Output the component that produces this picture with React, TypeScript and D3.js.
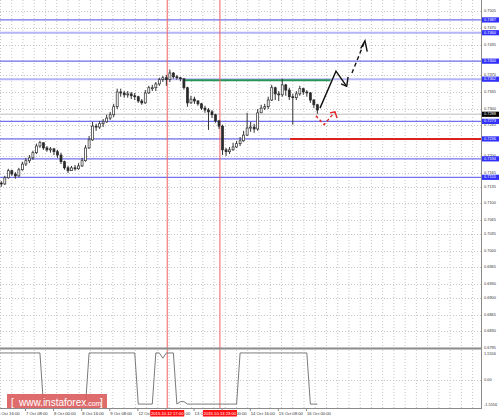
import React from "react";
import * as d3 from "d3";

// ---------- DATA ----------
// 2-hour candles, start hour index counted in trading hours from 6 Oct 16:00
const candleStartHours = d3.range(0, 184, 2);
const firstOpen = 0.7138;
const closes = [
  0.7143, 0.7141, 0.7154, 0.7169, 0.7162, 0.7158, 0.7171, 0.7183, 0.7190, 0.7196,
  0.7207, 0.7221, 0.7228, 0.7217, 0.7213, 0.7215, 0.7209, 0.7202, 0.7188, 0.7175,
  0.7169, 0.7175, 0.7173, 0.7179, 0.7190, 0.7217, 0.7234, 0.7263, 0.7261, 0.7268,
  0.7272, 0.7280, 0.7287, 0.7304, 0.7335, 0.7333, 0.7329, 0.7331, 0.7327, 0.7325,
  0.7316, 0.7312, 0.7333, 0.7344, 0.7344, 0.7352, 0.7361, 0.7365, 0.7361, 0.7375,
  0.7367, 0.7365, 0.7363, 0.7344, 0.7312, 0.7320, 0.7316, 0.7310, 0.7301, 0.7297,
  0.7293, 0.7287, 0.7274, 0.7263, 0.7213, 0.7209, 0.7213, 0.7219, 0.7226, 0.7232,
  0.7244, 0.7259, 0.7261, 0.7257, 0.7291, 0.7301, 0.7304, 0.7318, 0.7344, 0.7331,
  0.7329, 0.7350, 0.7339, 0.7325, 0.7323, 0.7331, 0.7342, 0.7335, 0.7333, 0.7318,
  0.7308, 0.7297,
];
const highs = [
  0.7150, 0.7147, 0.7158, 0.7173, 0.7171, 0.7166, 0.7175, 0.7188, 0.7196, 0.7202,
  0.7211, 0.7226, 0.7232, 0.7228, 0.7221, 0.7219, 0.7217, 0.7213, 0.7207, 0.7190,
  0.7179, 0.7179, 0.7181, 0.7185, 0.7196, 0.7223, 0.7242, 0.7272, 0.7268, 0.7274,
  0.7278, 0.7287, 0.7293, 0.7310, 0.7342, 0.7342, 0.7337, 0.7337, 0.7335, 0.7333,
  0.7327, 0.7320, 0.7339, 0.7348, 0.7350, 0.7356, 0.7365, 0.7369, 0.7371, 0.7382,
  0.7377, 0.7371, 0.7367, 0.7363, 0.7346, 0.7327, 0.7325, 0.7318, 0.7312, 0.7306,
  0.7301, 0.7297, 0.7289, 0.7276, 0.7266, 0.7217, 0.7219, 0.7228, 0.7232, 0.7240,
  0.7253, 0.7291, 0.7272, 0.7268, 0.7299, 0.7308, 0.7310, 0.7325, 0.7350, 0.7346,
  0.7337, 0.7363, 0.7352, 0.7344, 0.7331, 0.7337, 0.7348, 0.7344, 0.7339, 0.7335,
  0.7320, 0.7310,
];
const lows = [
  0.7133, 0.7135, 0.7139, 0.7152, 0.7158, 0.7152, 0.7156, 0.7169, 0.7179, 0.7185,
  0.7192, 0.7204, 0.7217, 0.7213, 0.7209, 0.7207, 0.7202, 0.7196, 0.7183, 0.7171,
  0.7164, 0.7169, 0.7169, 0.7171, 0.7177, 0.7188, 0.7215, 0.7232, 0.7253, 0.7257,
  0.7261, 0.7270, 0.7276, 0.7282, 0.7299, 0.7325, 0.7323, 0.7323, 0.7320, 0.7318,
  0.7312, 0.7308, 0.7310, 0.7331, 0.7337, 0.7337, 0.7348, 0.7356, 0.7348, 0.7356,
  0.7363, 0.7361, 0.7358, 0.7340, 0.7304, 0.7310, 0.7310, 0.7306, 0.7297, 0.7291,
  0.7255, 0.7280, 0.7270, 0.7257, 0.7202, 0.7200, 0.7204, 0.7211, 0.7217, 0.7221,
  0.7230, 0.7242, 0.7251, 0.7249, 0.7253, 0.7293, 0.7297, 0.7299, 0.7316, 0.7318,
  0.7316, 0.7325, 0.7327, 0.7318, 0.7266, 0.7318, 0.7327, 0.7329, 0.7325, 0.7312,
  0.7301, 0.7289,
];

// oscillator in lower pane, one value per candle
const indicatorValues = [
  1.62, 1.62, 1.62, 1.62, 1.62, 1.62, 1.62, 1.62, 1.62, 1.62, 1.62, 1.62, 1.62,
  -1.5, -1.5, -1.5, -1.5, -1.5, -1.5, -1.5, -1.5, -1.5, -1.5, -1.5, -1.5, -1.5,
  1.62, 1.62, 1.62, 1.62, 1.62, 1.62, 1.62, 1.62, 1.62, 1.62, 1.62, 1.62, 1.62, 1.62,
  -1.5, -1.5, -1.5, -1.5, -1.5,
  1.62, 1.62, 1.3, 1.62, 1.62, 1.62,
  -1.5, -1.35, -1.35, -1.5, -1.5, -1.5, -1.5, -1.5, -1.5, -1.5, -1.5, -1.5, -1.5, -1.5, -1.5, -1.5, -1.5, -1.5,
  1.62, 1.62, 1.62, 1.62, 1.62, 1.62, 1.62, 1.62, 1.62, 1.62, 1.62, 1.62, 1.62, 1.62, 1.62, 1.62, 1.62, 1.62, 1.62, 1.62,
  -1.5, -1.5, -1.5,
];
const indicatorTickValues = [1.5556, 0, -1.5556];
const indicatorTickLabels = ["1.5556", "0.00", "-1.5556"];

const priceGridValues = [
  0.7505, 0.7470, 0.7435, 0.7400, 0.7370, 0.7335, 0.7300, 0.7265, 0.7235, 0.7200, 0.7165,
  0.7135, 0.7100, 0.7065, 0.7035, 0.7000, 0.6965, 0.6930, 0.6900, 0.6865, 0.6830, 0.6795,
];
const levelPrices = [0.7487, 0.7460, 0.7400, 0.7362, 0.7273, 0.7236, 0.7194, 0.7155];
const softLevelPrices = [0.7460, 0.7362];
const bidPrice = 0.7288;
const greenLevel = { price: 0.7360, fromHour: 106, toHour: 190 };
const redLevel = { price: 0.7236, fromHour: 167 };

const timeTickHours = [0, 16, 32, 48, 64, 80, 96, 112, 128, 144, 160, 176];
const timeTickLabels = [
  "6 Oct 16:00", "7 Oct 08:00", "8 Oct 00:00", "8 Oct 16:00", "9 Oct 08:00", "12 Oct 00:00",
  "12 Oct 16:00", "13 Oct 08:00", "14 Oct 00:00", "14 Oct 16:00", "15 Oct 08:00", "16 Oct 00:00",
];
const markerHours = [97, 127];
const markerLabels = ["2015.10.12 17:00", "2015.10.13 23:00"];

// hand-drawn forecast arrows: [hour index, price]
const solidArrow: [number, number][] = [[184.0, 0.7301], [193.1, 0.7379], [199.2, 0.7347]];
const solidArrowHead: [number, number][] = [[196.0, 0.7352], [199.2, 0.7347], [200.0, 0.7367]];
const dashedArrow: [number, number][] = [[202.2, 0.7375], [209.6, 0.7443]];
const dashedArrowHead: [number, number][] = [[207.2, 0.7427], [209.6, 0.7443], [210.9, 0.7420]];
const redArrow: [number, number][] = [[181.7, 0.7285], [186.3, 0.7266], [192.5, 0.7293]];
const redArrowHead: [number, number][] = [[189.7, 0.7291], [192.5, 0.7293], [193.7, 0.7280]];

// ---------- LAYOUT ----------
const W = 500;
const H = 417;
const plotRight = 481;
const priceTop = 0;
const priceBottom = 348;
const indTop = 350;
const indBottom = 408;
const FONT = "'Liberation Sans', Arial, sans-serif";

export default function App() {
  const xs = d3.scaleLinear().domain([0, 176]).range([-3.1, -3.1 + 176 * 1.756]);
  const ys = d3.scaleLinear().domain([0.6795, 0.7529]).range([priceBottom, priceTop]);
  const yi = d3.scaleLinear().domain([-1.5556, 1.5556]).range([405, 354]);

  const candles = closes.map((c, j) => {
    const o = j === 0 ? firstOpen : closes[j - 1];
    return {
      x: xs(candleStartHours[j] + 0.5),
      o,
      c,
      h: Math.max(highs[j], o, c),
      l: Math.min(lows[j], o, c),
    };
  });

  const pl = d3.line<[number, number]>().x((d) => xs(d[0])).y((d) => ys(d[1]));
  const indLine = d3
    .line<number>()
    .x((_, j) => xs(candleStartHours[j] + 0.5))
    .y((v) => yi(v));

  const vGrid = d3.range(0, plotRight, 11.24);

  return (
    <svg
      width={W}
      height={H}
      style={{ position: "fixed", left: 0, top: 0, display: "block" }}
      fontFamily={FONT}
    >
      <defs>
        <clipPath id="pc">
          <rect x={0} y={priceTop} width={plotRight} height={priceBottom - priceTop} />
        </clipPath>
        <clipPath id="ic">
          <rect x={0} y={indTop} width={plotRight} height={indBottom - indTop} />
        </clipPath>
      </defs>
      <rect x={0} y={0} width={W} height={H} fill="#fff" />

      {/* grid */}
      <g stroke="#c6c6c6" strokeWidth={1} strokeDasharray="1,2">
        {vGrid.map((x, i) => (
          <line key={"vg" + i} x1={x + 0.5} x2={x + 0.5} y1={priceTop} y2={priceBottom} />
        ))}
        {vGrid.map((x, i) => (
          <line key={"vgi" + i} x1={x + 0.5} x2={x + 0.5} y1={indTop} y2={indBottom} />
        ))}
        {priceGridValues.slice(0, -1).map((p, i) => (
          <line key={"hg" + i} x1={0} x2={plotRight} y1={Math.round(ys(p)) + 0.5} y2={Math.round(ys(p)) + 0.5} />
        ))}
        <line x1={0} x2={plotRight} y1={Math.round(yi(0)) + 0.5} y2={Math.round(yi(0)) + 0.5} />
      </g>

      <g clipPath="url(#pc)">
        {/* levels */}
        {levelPrices.map((p, i) => {
          const soft = softLevelPrices.includes(p);
          return (
            <line
              key={"lv" + i}
              x1={0}
              x2={plotRight}
              y1={ys(p)}
              y2={ys(p)}
              stroke={soft ? "#b4b4f6" : "#7272ee"}
              strokeWidth={soft ? 2 : 1.2}
            />
          );
        })}
        <line x1={0} x2={plotRight} y1={ys(bidPrice)} y2={ys(bidPrice)} stroke="#d2d2d2" strokeWidth={1.5} />
        <line
          x1={xs(greenLevel.fromHour)}
          x2={xs(greenLevel.toHour)}
          y1={ys(greenLevel.price)}
          y2={ys(greenLevel.price)}
          stroke="#27955a"
          strokeWidth={2}
        />
        <line
          x1={xs(redLevel.fromHour)}
          x2={plotRight}
          y1={ys(redLevel.price)}
          y2={ys(redLevel.price)}
          stroke="#dd2020"
          strokeWidth={2}
        />
      </g>

      {/* vertical markers */}
      {markerHours.map((h, i) => (
        <line key={"mk" + i} x1={xs(h)} x2={xs(h)} y1={0} y2={indBottom} stroke="#f26262" strokeWidth={1} />
      ))}

      {/* candles */}
      <g clipPath="url(#pc)">
        {candles.map((d, i) => {
          const top = ys(Math.max(d.o, d.c));
          const bot = ys(Math.min(d.o, d.c));
          const bull = d.c >= d.o;
          return (
            <g key={"cd" + i}>
              <line x1={d.x} x2={d.x} y1={ys(d.h)} y2={ys(d.l)} stroke="#333" strokeWidth={1} />
              <rect
                x={d.x - 1}
                y={top}
                width={2}
                height={Math.max(1, bot - top)}
                fill={bull ? "#fff" : "#2a2a2a"}
                stroke="#2a2a2a"
                strokeWidth={0.7}
              />
            </g>
          );
        })}
      </g>

      {/* forecast arrows */}
      <g fill="none" strokeLinejoin="miter">
        <path d={pl(solidArrow) || ""} stroke="#111" strokeWidth={1.4} />
        <path d={pl(solidArrowHead) || ""} stroke="#111" strokeWidth={1.4} />
        <path d={pl(dashedArrow) || ""} stroke="#111" strokeWidth={1.4} strokeDasharray="4,3" />
        <path d={pl(dashedArrowHead) || ""} stroke="#111" strokeWidth={1.4} />
        <path d={pl(redArrow) || ""} stroke="#e3262b" strokeWidth={1.4} strokeDasharray="3,2.5" />
        <path d={pl(redArrowHead) || ""} stroke="#e3262b" strokeWidth={1.4} />
      </g>

      {/* indicator */}
      <g clipPath="url(#ic)">
        <path d={indLine(indicatorValues) || ""} fill="none" stroke="#7a7a7a" strokeWidth={1} />
      </g>

      {/* frame */}
      <line x1={0} x2={plotRight} y1={priceBottom + 0.5} y2={priceBottom + 0.5} stroke="#8a8a8a" strokeWidth={2} />
      <line x1={0} x2={plotRight + 0.5} y1={indBottom + 0.5} y2={indBottom + 0.5} stroke="#8a8a8a" strokeWidth={1} />
      <line x1={plotRight + 0.5} x2={plotRight + 0.5} y1={0} y2={indBottom + 1} stroke="#8a8a8a" strokeWidth={1} />

      {/* watermark */}
      <g>
        <rect x={7} y={394} width={100} height={14} fill="#dc5f5f" opacity={0.92} />
        <text x={11} y={405.5} fontSize={10} fill="#fff">[</text>
        <text x={19} y={405.5} fontSize={10} fill="#fff">
          www.instaforex<tspan fontSize={7}>.com</tspan>
        </text>
        <text x={100} y={405.5} fontSize={10} fill="#fff">]</text>
      </g>

      {/* right price labels */}
      <g fontSize={3.9} fill="#333">
        {priceGridValues.map((p, i) => (
          <text key={"pl" + i} x={484} y={ys(p)} dominantBaseline="middle">
            {p.toFixed(4)}
          </text>
        ))}
      </g>
      {levelPrices.map((p, i) => (
        <g key={"lb" + i}>
          <rect x={482} y={ys(p) - 2.6} width={17} height={5.2} fill="#3030fa" />
          <text x={484} y={ys(p)} dominantBaseline="middle" fontSize={3.9} fill="#fff">
            {p.toFixed(4)}
          </text>
        </g>
      ))}
      <rect x={482} y={ys(bidPrice) - 2.6} width={17} height={5.2} fill="#000" />
      <text x={484} y={ys(bidPrice)} dominantBaseline="middle" fontSize={3.9} fill="#fff">
        {bidPrice.toFixed(4)}
      </text>
      <g fontSize={3.9} fill="#333">
        {indicatorTickValues.map((v, i) => (
          <text key={"il" + i} x={484} y={yi(v)} dominantBaseline="middle">
            {indicatorTickLabels[i]}
          </text>
        ))}
      </g>

      {/* time axis */}
      <g fontSize={4.2} fill="#333">
        {timeTickHours.map((h, i) => (
          <g key={"tt" + i}>
            <line x1={xs(h) + 0.5} x2={xs(h) + 0.5} y1={indBottom} y2={indBottom + 3} stroke="#8a8a8a" />
            <text x={xs(h) + 1} y={413.5} dominantBaseline="middle">
              {timeTickLabels[i]}
            </text>
          </g>
        ))}
      </g>
      {markerHours.map((h, i) => (
        <g key={"mb" + i}>
          <rect x={xs(h) - 17} y={410} width={34} height={6.5} fill="#ff1010" />
          <text
            x={xs(h)}
            y={413.4}
            textAnchor="middle"
            dominantBaseline="middle"
            fontSize={4.2}
            fill="#fff"
          >
            {markerLabels[i]}
          </text>
        </g>
      ))}
    </svg>
  );
}
